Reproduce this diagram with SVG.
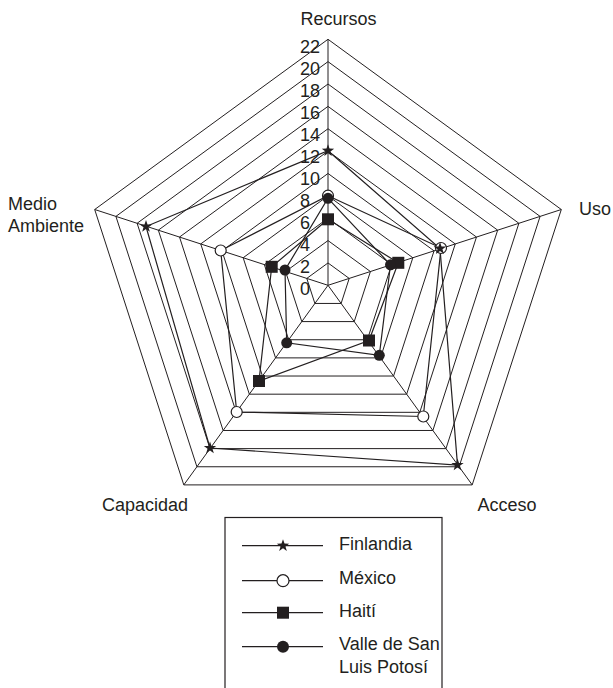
<svg xmlns="http://www.w3.org/2000/svg" width="613" height="688" viewBox="0 0 613 688">
<style>
text{font-family:"Liberation Sans",Arial,sans-serif;font-size:18px;fill:#231f20}
.grid{fill:none;stroke:#231f20;stroke-width:1}
.series{fill:none;stroke:#231f20;stroke-width:1.2;stroke-linejoin:miter}
.open{fill:#fff;stroke:#231f20;stroke-width:1.2}
.fill{fill:#231f20;stroke:none}
.leg{stroke:#231f20;stroke-width:1.2}
</style>
<defs>
<path id="star" d="M0,-6.5 L1.53,-2.1 6.18,-2.01 2.47,0.8 3.82,5.26 0,2.6 -3.82,5.26 -2.47,0.8 -6.18,-2.01 -1.53,-2.1Z" fill="#231f20"/>
<rect id="sq" x="-6" y="-6" width="12" height="12" fill="#231f20"/>
</defs>
<g id="grid">
<polygon class="grid" points="328,262.94 349.21,278.41 341.11,303.45 314.89,303.45 306.79,278.41"/>
<polygon class="grid" points="328,240.57 370.42,271.52 354.22,321.59 301.78,321.59 285.58,271.52"/>
<polygon class="grid" points="328,218.22 391.63,264.63 367.33,339.74 288.67,339.74 264.37,264.63"/>
<polygon class="grid" points="328,195.85 412.84,257.74 380.44,357.88 275.56,357.88 243.16,257.74"/>
<polygon class="grid" points="328,173.48 434.05,250.85 393.55,376.03 262.45,376.03 221.95,250.85"/>
<polygon class="grid" points="328,151.11 455.26,243.95 406.66,394.18 249.34,394.18 200.74,243.95"/>
<polygon class="grid" points="328,128.75 476.47,237.06 419.77,412.32 236.23,412.32 179.53,237.06"/>
<polygon class="grid" points="328,106.38 497.67,230.17 432.87,430.47 223.13,430.47 158.33,230.17"/>
<polygon class="grid" points="328,84.02 518.88,223.28 445.98,448.62 210.02,448.62 137.12,223.28"/>
<polygon class="grid" points="328,61.65 540.09,216.39 459.09,466.76 196.91,466.76 115.91,216.39"/>
<polygon class="grid" points="328,39.3 561.3,209.5 472.2,484.9 183.8,484.9 94.7,209.5"/>
<line class="grid" x1="328" y1="285.3" x2="328" y2="39.3"/>
<line class="grid" x1="328" y1="285.3" x2="561.3" y2="209.5"/>
<line class="grid" x1="328" y1="285.3" x2="472.2" y2="484.9"/>
<line class="grid" x1="328" y1="285.3" x2="183.8" y2="484.9"/>
<line class="grid" x1="328" y1="285.3" x2="94.7" y2="209.5"/>
</g>
<g id="ticks">
<text x="300" y="52.7">22</text>
<text x="300" y="74.8">20</text>
<text x="300" y="96.8">18</text>
<text x="300" y="118.9">16</text>
<text x="300" y="140.9">14</text>
<text x="300" y="163">12</text>
<text x="300" y="185.1">10</text>
<text x="300" y="207.1">8</text>
<text x="300" y="229.2">6</text>
<text x="300" y="251.2">4</text>
<text x="300" y="273.3">2</text>
<text x="300" y="295.4">0</text>
</g>
<g id="axis-labels">
<text x="300.5" y="25">Recursos</text>
<text x="579" y="215">Uso</text>
<text x="477.5" y="510.7">Acceso</text>
<text x="102" y="510.7">Capacidad</text>
<text x="8" y="210">Medio</text>
<text x="8" y="231.7">Ambiente</text>
</g>
<g id="connectors">
<polygon id="line-finlandia" class="series" points="328,150.7 440,248.5 457.5,465 210,448 146,226.5"/>
<polygon id="line-mexico" class="series" points="328,195.7 441,248 423.3,416.5 236.7,412 220.7,250.5"/>
<polygon id="line-haiti" class="series" points="328,219.3 398.3,262.8 369,340.5 259,381 271.7,266.8"/>
<polygon id="line-valle" class="series" points="328,198.3 390.5,264.8 379.3,355.3 286.7,342.8 285,270"/>
</g>
<g id="finlandia">
<use href="#star" x="328" y="150.7"/>
<use href="#star" x="440" y="248.5"/>
<use href="#star" x="457.5" y="465"/>
<use href="#star" x="210" y="448"/>
<use href="#star" x="146" y="226.5"/>
</g>
<g id="mexico">
<circle class="open" cx="328" cy="195.7" r="5.5"/>
<circle class="open" cx="441" cy="248" r="5.5"/>
<circle class="open" cx="423.3" cy="416.5" r="5.5"/>
<circle class="open" cx="236.7" cy="412" r="5.5"/>
<circle class="open" cx="220.7" cy="250.5" r="5.5"/>
<use href="#star" x="440" y="248.5"/>
</g>
<g id="haiti">
<use href="#sq" x="328" y="219.3"/>
<use href="#sq" x="398.3" y="262.8"/>
<use href="#sq" x="369" y="340.5"/>
<use href="#sq" x="259" y="381"/>
<use href="#sq" x="271.7" y="266.8"/>
</g>
<g id="valle">
<circle class="fill" cx="328" cy="198.3" r="5.5"/>
<circle class="fill" cx="390.5" cy="264.8" r="5.5"/>
<circle class="fill" cx="379.3" cy="355.3" r="5.5"/>
<circle class="fill" cx="286.7" cy="342.8" r="5.5"/>
<circle class="fill" cx="285" cy="270" r="5.5"/>
</g>
<g id="legend">
<rect x="225" y="517.5" width="217" height="180" fill="none" stroke="#231f20" stroke-width="1.2"/>
<line class="leg" x1="242" y1="545.7" x2="323" y2="545.7"/>
<use href="#star" x="283" y="545.7"/>
<text x="339" y="550">Finlandia</text>
<line class="leg" x1="242" y1="580.7" x2="323" y2="580.7"/>
<circle class="open" cx="283" cy="580.7" r="6"/>
<text x="339" y="584">México</text>
<line class="leg" x1="242" y1="612.7" x2="323" y2="612.7"/>
<use href="#sq" x="283" y="612.7"/>
<text x="339" y="617">Haití</text>
<line class="leg" x1="242" y1="646.7" x2="323" y2="646.7"/>
<circle class="fill" cx="283" cy="646.7" r="6"/>
<text x="339" y="650">Valle de San</text>
<text x="339" y="673">Luis Potosí</text>
</g>
</svg>
